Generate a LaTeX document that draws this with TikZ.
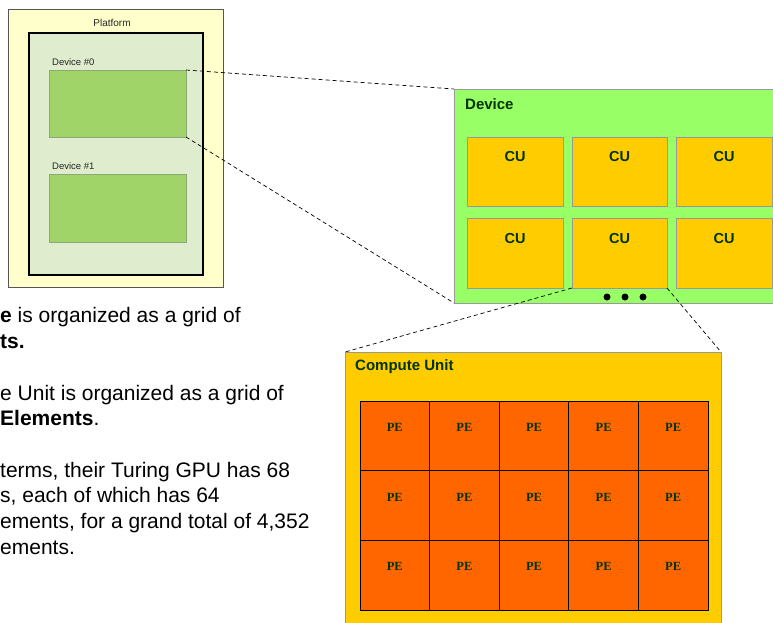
\documentclass[tikz,border=0pt]{standalone}
\usepackage{fontspec}
\setmainfont{Liberation Sans}
\newfontfamily\peserif{Liberation Serif}
\definecolor{platfill}{HTML}{FFFFCC}
\definecolor{platdraw}{HTML}{555555}
\definecolor{innerfill}{HTML}{DFECCD}
\definecolor{devsfill}{HTML}{A0D468}
\definecolor{devsdraw}{HTML}{8AAA7A}
\definecolor{devfill}{HTML}{99FF66}
\definecolor{boxgray}{HTML}{999999}
\definecolor{cufill}{HTML}{FFCC00}
\definecolor{pefill}{HTML}{FF6600}
\definecolor{lblgreen}{HTML}{003300}
\begin{document}
\begin{tikzpicture}[x=1pt,y=-1pt,
  box/.style={anchor=north west, inner sep=0pt, outer sep=0pt},
  platbox/.style={box, fill=platfill, draw=platdraw, line width=1pt},
  innerbox/.style={box, fill=innerfill, draw=black, line width=1.3pt},
  devsmall/.style={box, fill=devsfill, draw=devsdraw, line width=1pt},
  devbig/.style={box, fill=devfill, draw=boxgray, line width=1pt},
  cubox/.style={box, fill=cufill, draw=boxgray, line width=1pt, minimum height=69.5pt},
  cunitbox/.style={box, fill=cufill, draw=boxgray, line width=1pt},
  pebox/.style={box, fill=pefill, draw=black, line width=1pt, minimum width=69.6pt, minimum height=69.67pt},
  smalltxt/.style={inner sep=0pt, font=\fontsize{9.5}{11}\selectfont, text=black!85},
  biglbl/.style={inner sep=0pt, anchor=west, font=\fontsize{15}{18}\selectfont\bfseries, text=lblgreen},
  culbl/.style={inner sep=0pt, font=\fontsize{14.5}{17}\selectfont\bfseries, text=lblgreen},
  pelbl/.style={inner sep=0pt, font=\peserif\fontsize{12.5}{15}\selectfont\bfseries, text=lblgreen},
  dotnode/.style={circle, fill=black, inner sep=0pt, minimum size=7pt},
  connector/.style={draw=black, dash pattern=on 4pt off 3pt, line width=0.7pt},
  bodytxt/.style={inner sep=0pt, anchor=base west, font=\fontsize{21}{26}\selectfont, text=black}]
\useasboundingbox (0,0) rectangle (773,622);
\clip (0,0) rectangle (773,622);

% Platform
\node[platbox, minimum width=215pt, minimum height=278pt] (plat) at (8,9) {};
\node[smalltxt, font=\fontsize{10}{12}\selectfont] (platlbl) at (112,23) {Platform};
\node[innerbox, minimum width=174pt, minimum height=242pt] (inner) at (29,33) {};
\node[smalltxt, anchor=west] (dev0lbl) at (52,62) {Device \#0};
\node[devsmall, minimum width=137pt, minimum height=67pt] (dev0) at (49,70) {};
\node[smalltxt, anchor=west] (dev1lbl) at (52,166) {Device \#1};
\node[devsmall, minimum width=137pt, minimum height=68pt] (dev1) at (49,174) {};

% Device
\node[devbig, minimum width=330pt, minimum height=214pt] (device) at (454,89) {};
\node[biglbl] (devlbl) at (465,104) {Device};
\node[cubox, minimum width=96pt] (cu1) at (467,137) {};
\node[cubox, minimum width=95pt] (cu2) at (572,137) {};
\node[cubox, minimum width=96pt] (cu3) at (676,137) {};
\node[cubox, minimum width=96pt] (cu4) at (467,218.5) {};
\node[cubox, minimum width=95pt] (cu5) at (572,218.5) {};
\node[cubox, minimum width=96pt] (cu6) at (676,218.5) {};
\foreach \i in {1,...,6}{
  \node[culbl] (cu\i t) at ([yshift=-20pt]cu\i.north) {CU};
}
\node[dotnode] (dot1) at (607,297) {};
\node[dotnode] (dot2) at (625,297) {};
\node[dotnode] (dot3) at (643,297) {};

% Compute unit
\node[cunitbox, minimum width=376pt, minimum height=290pt] (cunit) at (345,352) {};
\node[biglbl] (cunitlbl) at (355,367) {Compute Unit};
\foreach \c in {0,...,4}{
  \foreach \r in {0,...,2}{
    \node[pebox] (pe-\c-\r) at ({360+69.6*\c},{401+69.67*\r}) {};
    \node[pelbl] (pet-\c-\r) at ([yshift=-26.5pt]pe-\c-\r.north) {PE};
  }
}

% Connectors
\draw[connector] (dev0.north east) -- (device.north west);
\draw[connector] (dev0.south east) -- (device.south west);
\draw[connector] (cu5.south west) -- (cunit.north west);
\draw[connector] (cu5.south east) -- (cunit.north east);

% Body text
\node[bodytxt] (t1) at (0,322) {\textbf{e} is organized as a grid of};
\node[bodytxt] (t2) at (0,348) {\textbf{ts.}};
\node[bodytxt] (t3) at (0,400) {e Unit is organized as a grid of};
\node[bodytxt] (t4) at (0,425) {\textbf{Elements}.};
\node[bodytxt] (t5) at (0,477) {terms, their Turing GPU has 68};
\node[bodytxt] (t6) at (0,502) {s, each of which has 64};
\node[bodytxt] (t7) at (0,528) {ements, for a grand total of 4,352};
\node[bodytxt] (t8) at (0,554) {ements.};
\end{tikzpicture}
\end{document}
